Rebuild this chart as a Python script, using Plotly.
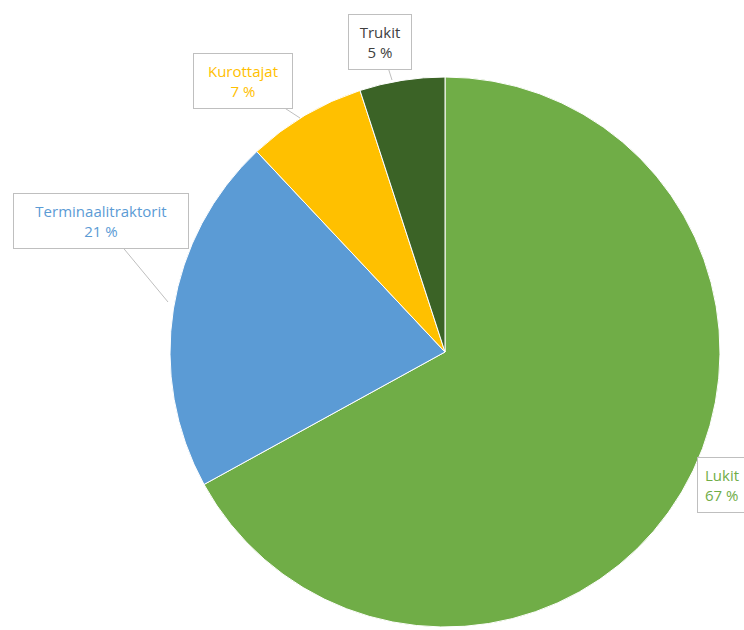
import plotly.graph_objects as go

labels = ["Lukit", "Terminaalitraktorit", "Kurottajat", "Trukit"]
values = [67, 21, 7, 5]
pct_text = ["67 %", "21 %", "7 %", "5 %"]
colors = ["#70AD47", "#5B9BD5", "#FFC000", "#3B6326"]
text_colors = ["#70AD47", "#5B9BD5", "#FFC000", "#404040"]

W, H = 744, 630

fig = go.Figure(go.Pie(
    labels=labels, values=values, sort=False, direction="clockwise", rotation=0,
    marker=dict(colors=colors, line=dict(color="#FFFFFF", width=1)),
    textinfo="none", hoverinfo="label+percent", showlegend=False,
    domain=dict(x=[170 / W, 720 / W], y=[3 / H, 553 / H]),
))

# callout placement: (point on pie px, box center px, inner box width)
callouts = {
    "Lukit": dict(pt=(700, 520), box=(697, 513), anchor="left", w=None),
    "Terminaalitraktorit": dict(pt=(168, 302), box=(101, 221), anchor="center", w=160),
    "Kurottajat": dict(pt=(300, 118), box=(243, 81), anchor="center", w=84),
    "Trukit": dict(pt=(392, 80), box=(380, 42), anchor="center", w=48),
}

for lab, pct, tc in zip(labels, pct_text, text_colors):
    c = callouts[lab]
    px, py = c["pt"]
    bx, by = c["box"]
    common = dict(
        text=f"{lab}<br>{pct}",
        font=dict(family="Open Sans", size=15, color=tc),
        bgcolor="#FFFFFF", bordercolor="#BFBFBF", borderwidth=1, borderpad=7,
        xref="paper", yref="paper",
    )
    if c["w"]:
        common["width"] = c["w"]
    if c["anchor"] == "left":
        fig.add_annotation(
            x=bx / W, y=1 - by / H, showarrow=False, xanchor="left", align="left",
            **common,
        )
    else:
        fig.add_annotation(
            x=px / W, y=1 - py / H,
            ax=bx - px, ay=by - py, axref="pixel", ayref="pixel",
            showarrow=True, arrowhead=0, arrowwidth=1,
            arrowcolor="#BFBFBF", align="center",
            **common,
        )

fig.update_layout(
    width=W, height=H, margin=dict(l=0, r=0, t=0, b=0),
    paper_bgcolor="#FFFFFF", plot_bgcolor="#FFFFFF",
)

fig.write_html("out.html")
